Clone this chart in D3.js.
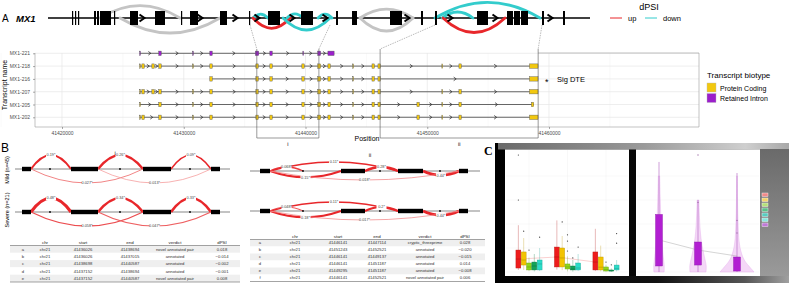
<!DOCTYPE html>
<html><head><meta charset="utf-8">
<script src="https://cdn.jsdelivr.net/npm/d3@7"></script>
<style>body{margin:0;background:#fff}svg{display:block;font-family:"Liberation Sans",Arial,sans-serif}</style>
</head><body><svg id="c" width="789" height="283"></svg>
<script>
// ================= DATA =================
// Panel A – gene model (schematic track units)
const geneExons=[[24,25],[27,28],[30,31],[46,48],[49,51],[52,63],[66,67],[82,90],[107,117],[133,134],[142,150],[172,179],[201,202],[220,232],[253,265],[288,290],[304,309],[342,354],[373,375],[387,389],[429,440],[459,465],[466,472],[473,480],[494,496],[515,517]];
const geneArrows=[94,152,187,209,244,277,359,402,447,502];
const geneArcs=[[52,132,"above","ns"],[72,172,"below","ns"],[205,220,"above","down"],[205,242,"below","up"],[239,255,"above","down"],[235,282,"below","down"],[270,284,"above","down"],[312,365,"above","ns"],[312,365,"below","ns"],[387,492,"above","down"],[394,425,"above","down"],[395,457,"below","up"]];
const zoomTop=[[202,282],[387,494]];
const zoomGenomic=[[41436000,41441100],[41446130,41459110]];
const zoomLabels=["i","ii"];
// Panel A – transcripts
const txNames=["MX1-221","MX1-218","MX1-216","MX1-207","MX1-205","MX1-202"];
const txBiotype=["Retained Intron","Protein Coding","Protein Coding","Protein Coding","Protein Coding","Protein Coding"];
const tx221=[[41426380,41426440],[41427950,41428150],[41430730,41430790],[41432140,41432340],[41435880,41436160],[41437070,41437270],[41439780,41439840],[41441000,41441240],[41441840,41442350]];
const tx218=[[41426380,41426440],[41426560,41426760],[41427380,41427580],[41427950,41428150],[41430730,41430790],[41432140,41432340],[41435920,41436120],[41437070,41437270],[41439700,41439900],[41441000,41441240],[41441840,41442040],[41443880,41443940],[41445460,41445660],[41445950,41446150],[41451200,41451260],[41452600,41452800],[41458400,41459100]];
const tx216=[[41432140,41432340],[41435920,41436120],[41437070,41437270],[41439700,41439900],[41441000,41441240],[41441840,41442040],[41443880,41443940],[41445460,41445660],[41445950,41446150],[41458400,41459100]];
const tx207=[[41426380,41426440],[41426560,41426760],[41427380,41427580],[41427950,41428150],[41430730,41430790],[41432140,41432340],[41435920,41436120],[41437070,41437270],[41439700,41439900],[41441000,41441240],[41441840,41442040],[41443880,41443940],[41445460,41445660],[41445950,41446150],[41451200,41451260],[41452600,41452800],[41458400,41459100]];
const tx205=[[41426380,41426440],[41427950,41428150],[41430730,41430790],[41432140,41432340],[41435920,41436120],[41437070,41437270],[41439700,41439900],[41441000,41441240],[41441840,41442040],[41443880,41443940],[41445460,41445660],[41445950,41446150],[41449150,41449350],[41451200,41451260],[41452600,41452800],[41458550,41458750]];
const tx202=[[41426380,41426440],[41426560,41426760],[41427950,41428150],[41430730,41430790],[41432140,41432340],[41435920,41436120],[41437070,41437270],[41439700,41439900],[41441000,41441240],[41441840,41442040],[41443880,41443940],[41445460,41445660],[41445950,41446150],[41449150,41449350],[41451200,41451260],[41452600,41452800],[41458400,41459100]];
const txExons=[tx221,tx218,tx216,tx207,tx205,tx202];
const xTicks=[41420000,41430000,41440000,41450000,41460000];
const biotypes=["Protein Coding","Retained Intron"];
// Panel B – sashimi
const sashiLeftExons=[[7,16],[56,83],[128,156],[196,205]];
const sashiLeftDots=[35,105,175];
const sashiLeftJx=[[16,56,"above"],[83,128,"above"],[156,196,"above"],[16,128,"below"],[83,196,"below"]];
const psiMildL=[0.19,0.26,0.09,0.027,0.013];
const psiSevereL=[0.48,0.34,0.33,0.058,0.047];
const sashiRightExons=[[10,20],[91,115],[148,173],[209,218]];
const sashiRightDots=[53,130,190];
const sashiRightJx=[[20,53,"above"],[20,148,"above"],[20,91,"below"],[115,148,"above"],[173,209,"below"],[20,209,"below"]];
const psiMildR=[0.068,0.11,0.15,0.28,0.44,0.018];
const psiSevereR=[0.048,0.11,0.18,0.20,0.44,0.017];
const groupLabels=["Mild (n=45)","Severe (n=21)"];
// Panel B – tables
const tabHeader=["","chr","start","end","verdict","dPSI"];
const tabLeftIds=["a","b","c","d","e"];
const tabLeftChr=["chr21","chr21","chr21","chr21","chr21"];
const tabLeftStart=[41436026,41436026,41438698,41437152,41437152];
const tabLeftEnd=[41438694,41437015,41440587,41438694,41440587];
const tabLeftVerdict=["novel annotated pair","annotated","annotated","annotated","novel annotated pair"];
const tabLeftDpsi=[0.018,-0.014,-0.002,-0.001,0.008];
const tabRightIds=["a","b","c","d","e","f"];
const tabRightChr=["chr21","chr21","chr21","chr21","chr21","chr21"];
const tabRightStart=[41446141,41451243,41446141,41446141,41449295,41446141];
const tabRightEnd=[41447114,41452521,41449137,41451187,41451187,41452521];
const tabRightVerdict=["cryptic_threeprime","annotated","annotated","annotated","annotated","novel annotated pair"];
const tabRightDpsi=[0.028,-0.020,-0.015,0.014,-0.008,0.006];
// Panel C – boxplots [lo,q1,med,q3,hi]
const cGroups=["g1","g2","g3"];
const cSeries=["s1","s2","s3","s4","s5"];
const cBox=[
 [[1.7,3.3,10.8,18.3,39],[1.7,5.8,10,16.7,28.3],[0.8,1.7,4.2,7.5,12],[0.5,1.7,5,8.3,15],[0.8,1.7,6.7,10,20]],
 [[2,4.2,12.5,20.8,43],[1.5,4.2,11.7,20,30],[0.5,2.5,4.2,6.7,13],[0.3,1.7,2.5,5,10],[0.8,1.7,3.3,7.5,15]],
 [[0.8,1.7,8.3,16.7,36],[0.5,1.7,4,12.5,22],[0.3,0.8,2,4.2,6],[0,0.8,1,1.7,3],[0.5,1.7,3,5.8,10]]];
const cOut=[
 [[97.5,60],[34],[18.3],[],[29]],
 [[],[41.7],[17.5,25.8,31],[11.7],[20.8]],
 [[],[],[8.3],[6],[24,32]]];
// Panel C – violins
const vLevels=[0,5,10,20,30,45,60,80,95];
const vDens=[[0.3,0.32,0.27,0.2,0.16,0.11,0.07,0.04,0.02],[0.47,0.5,0.42,0.26,0.15,0.08,0.05,0.03,0.02],[1.0,0.7,0.38,0.16,0.09,0.05,0.03,0.015,0.005]];
const vBox=[[0,5,26.7,48,91.7],[0,5.8,18.3,25,60],[0,0.8,13.3,12.5,82.5]];
const vOut=[[],[97.5,58],[43,32.5]];

// ================= DRAW =================
const svg=d3.select("#c");
const RED="#e8272b",CYAN="#33cccc",NSG="#c4c4c4";
const arcColor={ns:NSG,up:RED,down:CYAN};
function arcPath(x1,x2,y,h,side){const s=side==="above"?-1:1,m=(x1+x2)/2;return `M${x1},${y} Q${m},${y+s*2*h} ${x2},${y}`;}
function chevron(x,y,w,h){return `M${x-w/2},${y-h/2} L${x+w/2},${y} L${x-w/2},${y+h/2}`;}

// ---- Panel A: gene model
const xTop=d3.scaleLinear().domain([0,542]).range([48,590]);
const yTop=18;
const topH=d=>d[2]==="above"?Math.min(16,2+(d[1]-d[0])*0.13):Math.min(15,4+(d[1]-d[0])*0.17);
svg.append("text").attr("x",2).attr("y",22).attr("font-size",10).text("A");
svg.append("text").attr("x",16).attr("y",22).attr("font-size",9.5).attr("font-weight","bold").attr("font-style","italic").text("MX1");
svg.append("line").attr("x1",xTop(0)).attr("x2",xTop(542)).attr("y1",yTop).attr("y2",yTop).attr("stroke","#000").attr("stroke-width",1.3);
svg.selectAll(".garc").data(geneArcs).join("path").attr("d",d=>arcPath(xTop(d[0]),xTop(d[1]),yTop,topH(d),d[2]))
 .attr("fill","none").attr("stroke",d=>arcColor[d[3]]).attr("stroke-width",2.8).attr("stroke-linecap","round");
svg.selectAll(".gex").data(geneExons).join("rect").attr("x",d=>xTop(d[0])).attr("width",d=>Math.max(1.2,xTop(d[1])-xTop(d[0])))
 .attr("y",yTop-7).attr("height",14).attr("fill","#000");
svg.selectAll(".garr").data(geneArrows).join("path").attr("d",d=>chevron(xTop(d),yTop,5,7)).attr("fill","none").attr("stroke","#000").attr("stroke-width",2);
// dPSI legend
svg.append("text").attr("x",649).attr("y",10).attr("font-size",9).attr("text-anchor","middle").text("dPSI");
[["up",RED,610],["down",CYAN,645]].forEach(([t,c,xx])=>{
 svg.append("line").attr("x1",xx).attr("x2",xx+12).attr("y1",18).attr("y2",18).attr("stroke",c).attr("stroke-width",1);
 svg.append("text").attr("x",xx+18).attr("y",21).attr("font-size",7.5).text(t);
});

// ---- Panel A: transcript plot
const x=d3.scaleLinear().domain([41420000,41460000]).range([62,549]);
const y=d3.scalePoint().domain(txNames).range([53.3,117.3]);
const pL=35,pR=699,pT=53,pB=127;
const gP=svg.append("g");
const minor=d3.range(41415000,41465001,10000);
gP.selectAll(".mg").data(minor).join("line").attr("x1",d=>x(d)).attr("x2",d=>x(d)).attr("y1",pT).attr("y2",pB).attr("stroke","#f3f3f3").attr("stroke-width",0.5);
gP.selectAll(".vg").data(xTicks).join("line").attr("x1",d=>x(d)).attr("x2",d=>x(d)).attr("y1",pT).attr("y2",pB).attr("stroke","#e6e6e6").attr("stroke-width",0.7);
gP.selectAll(".hg").data(txNames).join("line").attr("x1",pL).attr("x2",pR).attr("y1",d=>y(d)).attr("y2",d=>y(d)).attr("stroke","#e6e6e6").attr("stroke-width",0.7);
gP.append("path").attr("d",`M${pL},${pT} V${pB} H${pR} V${pT} H${x(zoomGenomic[1][1])}`).attr("fill","none").attr("stroke","#9a9a9a").attr("stroke-width",0.6);
const bioColor={"Protein Coding":"#f2c80f","Retained Intron":"#9b1fcb"};
txNames.forEach((n,i)=>{
 const ex=txExons[i],yy=y(n);
 gP.append("line").attr("x1",x(ex[0][0])).attr("x2",x(ex[ex.length-1][1])).attr("y1",yy).attr("y2",yy).attr("stroke",i>=3?"#666":"#444").attr("stroke-width",i>=3?1.1:0.8);
 const introns=d3.pairs(ex).map(([a,b])=>[a[1],b[0]]).filter(d=>x(d[1])-x(d[0])>4);
 gP.selectAll(null).data(introns).join("path").attr("d",d=>chevron((x(d[0])+x(d[1]))/2,yy,2.5,3.6)).attr("fill","none").attr("stroke","#333").attr("stroke-width",0.8);
 gP.selectAll(null).data(ex).join("rect").attr("x",d=>x(d[0])).attr("width",d=>Math.max(0.6,x(d[1])-x(d[0]))).attr("y",yy-2.2).attr("height",4.4)
  .attr("fill",bioColor[txBiotype[i]]).attr("stroke","#555").attr("stroke-width",0.4);
});
const ax=d3.axisBottom(x).tickValues(xTicks).tickFormat(d3.format("d")).tickSize(2);
const gx=svg.append("g").attr("transform",`translate(0,${pB})`).call(ax);
gx.select(".domain").remove();
gx.selectAll("line").attr("stroke","#555").attr("stroke-width",0.5);
gx.selectAll("text").attr("font-size",5).attr("fill","#4d4d4d").attr("dy","0.5em").attr("font-family","Liberation Sans, Arial");
const gy=svg.append("g").attr("transform",`translate(${pL},0)`).call(d3.axisLeft(y).tickSize(2));
gy.select(".domain").remove();
gy.selectAll("line").attr("stroke","#555").attr("stroke-width",0.5);
gy.selectAll("text").attr("font-size",5).attr("fill","#4d4d4d").attr("font-family","Liberation Sans, Arial");
svg.append("text").attr("transform","translate(7,85) rotate(-90)").attr("text-anchor","middle").attr("font-size",7).text("Transcript name");
svg.append("text").attr("x",367).attr("y",141).attr("text-anchor","middle").attr("font-size",7).text("Position");
zoomGenomic.forEach((g,i)=>{
 const a=x(g[0]),b=x(g[1]);
 svg.append("path").attr("d",`M${a},49 V138 H${b} V49`).attr("fill","none").attr("stroke","#555").attr("stroke-width",0.6);
 svg.append("line").attr("x1",xTop(zoomTop[i][0])).attr("y1",yTop+7).attr("x2",a).attr("y2",49).attr("stroke","#777").attr("stroke-width",0.5).attr("stroke-dasharray","1.5,1");
 svg.append("line").attr("x1",xTop(zoomTop[i][1])).attr("y1",yTop+7).attr("x2",b).attr("y2",49).attr("stroke","#777").attr("stroke-width",0.5).attr("stroke-dasharray","1.5,1");
 svg.append("text").attr("x",(a+b)/2).attr("y",146).attr("text-anchor","middle").attr("font-size",5.5).text(zoomLabels[i]);
});
svg.append("text").attr("x",545).attr("y",85).attr("font-size",9).text("*");
svg.append("text").attr("x",557).attr("y",82).attr("font-size",7.5).text("Sig DTE");
svg.append("text").attr("x",707).attr("y",78).attr("font-size",8).text("Transcript biotype");
biotypes.forEach((b,i)=>{
 svg.append("rect").attr("x",707).attr("y",83+i*10.5).attr("width",9).attr("height",9).attr("fill",bioColor[b]).attr("stroke","#bbb").attr("stroke-width",0.4);
 svg.append("text").attr("x",720).attr("y",90.5+i*10.5).attr("font-size",7).text(b);
});

// ---- Panel B: sashimi
svg.append("text").attr("x",1).attr("y",152).attr("font-size",12).text("B");
const wScale=d3.scaleSqrt().domain([0,0.5]).range([0.3,3.2]);
const cScale=d3.scaleLinear().domain([0,0.08]).range(["#f6b0b0",RED]).clamp(true);
function sashimi(x0,x1,len,yy,exons,dots,jx,vals,hfn){
 const sx=d3.scaleLinear().domain([0,len]).range([x0,x1]);
 const g=svg.append("g");
 g.append("line").attr("x1",x0).attr("x2",x1).attr("y1",yy).attr("y2",yy).attr("stroke","#555").attr("stroke-width",0.7);
 g.selectAll(null).data(jx).join("path").attr("d",(d,i)=>arcPath(sx(d[0]),sx(d[1]),yy,hfn(d[1]-d[0]),d[2]))
  .attr("fill","none").attr("stroke",(d,i)=>cScale(vals[i])).attr("stroke-width",(d,i)=>wScale(vals[i]));
 g.selectAll(null).data(exons).join("rect").attr("x",d=>sx(d[0])).attr("width",d=>sx(d[1])-sx(d[0])).attr("y",yy-2.2).attr("height",4.4).attr("fill","#000");
 g.selectAll(null).data(dots).join("circle").attr("cx",d=>sx(d)).attr("cy",yy).attr("r",0.9).attr("fill","#000");
 const lab=g.selectAll(null).data(jx).join("g").attr("transform",(d,i)=>`translate(${(sx(d[0])+sx(d[1]))/2},${yy+(d[2]==="above"?-1:1)*hfn(d[1]-d[0])})`);
 lab.append("rect").attr("x",-5).attr("y",-2).attr("width",10).attr("height",4).attr("fill","#fff");
 lab.append("text").attr("text-anchor","middle").attr("dy","0.35em").attr("font-size",3.8).attr("fill","#444").text((d,i)=>vals[i]+"*");
}
const hL=s=>Math.min(14,3+s*0.3), hR=s=>Math.min(9,2+s*0.06);
sashimi(15,230,215,169,sashiLeftExons,sashiLeftDots,sashiLeftJx,psiMildL,hL);
sashimi(15,230,215,212,sashiLeftExons,sashiLeftDots,sashiLeftJx,psiSevereL,hL);
sashimi(250,480,230,171,sashiRightExons,sashiRightDots,sashiRightJx,psiMildR,hR);
sashimi(250,480,230,211,sashiRightExons,sashiRightDots,sashiRightJx,psiSevereR,hR);
svg.append("text").attr("x",115).attr("y",155).attr("text-anchor","middle").attr("font-size",5.5).text("i");
svg.append("text").attr("x",370).attr("y",157).attr("text-anchor","middle").attr("font-size",5.5).text("ii");
svg.append("text").attr("transform","translate(9,170) rotate(-90)").attr("text-anchor","middle").attr("font-size",5.5).text(groupLabels[0]);
svg.append("text").attr("transform","translate(9,210) rotate(-90)").attr("text-anchor","middle").attr("font-size",5.5).text(groupLabels[1]);

// ---- Panel B: tables
const fmtP=d3.format(".3f");
function table(x0,x1,yH,dy,colX,ids,chr,st,en,ver,dp){
 const g=svg.append("g");
 const rows=ids.map((d,i)=>[d,chr[i],String(st[i]),String(en[i]),ver[i],fmtP(dp[i])]);
 g.selectAll(null).data(rows).join("rect").attr("x",x0).attr("width",x1-x0).attr("y",(d,i)=>yH+3.5+i*dy).attr("height",dy)
  .attr("fill",(d,i)=>i%2===0?"#efefef":"#fff");
 g.append("line").attr("x1",x0).attr("x2",x1).attr("y1",yH+3.5).attr("y2",yH+3.5).attr("stroke","#666").attr("stroke-width",0.6);
 g.append("line").attr("x1",x0).attr("x2",x1).attr("y1",yH+3.5+rows.length*dy).attr("y2",yH+3.5+rows.length*dy).attr("stroke","#666").attr("stroke-width",0.6);
 g.selectAll(null).data(tabHeader).join("text").attr("x",(d,i)=>colX[i]).attr("y",yH+1.5).attr("text-anchor","middle").attr("font-size",4.4).attr("fill","#222").text(d=>d);
 rows.forEach((r,i)=>{
  g.selectAll(null).data(r).join("text").attr("x",(d,j)=>colX[j]).attr("y",yH+3.5+i*dy+dy/2).attr("dy","0.35em").attr("text-anchor","middle").attr("font-size",4.2).attr("fill","#333").text(d=>d);
 });
}
table(10,240,242,7.3,[23,45,83,130,175,222],tabLeftIds,tabLeftChr,tabLeftStart,tabLeftEnd,tabLeftVerdict,tabLeftDpsi);
table(250,485,236,7,[260,295,338,377,425,465],tabRightIds,tabRightChr,tabRightStart,tabRightEnd,tabRightVerdict,tabRightDpsi);

// ---- Panel C
const defs=svg.append("defs");
function lg(id,stops,vert){const g=defs.append("linearGradient").attr("id",id).attr("x1",0).attr("y1",0).attr("x2",vert?0:1).attr("y2",vert?1:0);
 stops.forEach(([o,c])=>g.append("stop").attr("offset",o).attr("stop-color",c));}
lg("cbg",[[0,"#000"],[0.55,"#080808"],[0.8,"#3c3c3c"],[0.9,"#676767"],[1,"#8a8a8a"]]);
lg("ctop",[[0,"#6a6a6a"],[0.5,"#9a9a9a"],[0.85,"#cfcfcf"],[1,"#a8a8a8"]]);
lg("cright",[[0,"#6a6a6a"],[1,"#9a9a9a"]],true);
lg("cbot",[[0,"#000"],[0.55,"#111"],[0.85,"#555"],[1,"#a0a0a0"]]);
svg.append("rect").attr("x",495).attr("y",143).attr("width",294).attr("height",140).attr("fill","url(#cbg)");
svg.append("rect").attr("x",498).attr("y",143).attr("width",291).attr("height",6.5).attr("fill","url(#ctop)");
svg.append("rect").attr("x",760).attr("y",149).attr("width",29).attr("height",127).attr("fill","url(#cright)");
svg.append("rect").attr("x",495).attr("y",276).attr("width",294).attr("height",7).attr("fill","url(#cbot)");
svg.append("rect").attr("x",505).attr("y",149.5).attr("width",124).attr("height",126.5).attr("fill","#fff");
svg.append("rect").attr("x",636).attr("y",149.5).attr("width",124).attr("height",126.5).attr("fill","#fff");
svg.append("text").attr("x",484).attr("y",155).attr("font-size",12).attr("font-family","Liberation Serif, serif").attr("font-weight","bold").text("C");
const yC=d3.scaleLinear().domain([0,100]).range([272,152]);
const gx1=d3.scalePoint().domain(cGroups).range([529,606]);
const sx1=d3.scaleBand().domain(cSeries).range([-13.5,13.5]).padding(0.08);
const sCol=["#ee1c1c","#f3c300","#8fd61c","#12a35a","#2bdcc8"];
const gC=svg.append("g");
[0,20,40,60,80].forEach(v=>{gC.append("line").attr("x1",506).attr("x2",628).attr("y1",yC(v)).attr("y2",yC(v)).attr("stroke","#f0f0f0").attr("stroke-width",0.5);
 gC.append("line").attr("x1",637).attr("x2",759).attr("y1",yC(v)).attr("y2",yC(v)).attr("stroke","#f0f0f0").attr("stroke-width",0.5);});
cGroups.forEach(g=>gC.append("line").attr("x1",gx1(g)).attr("x2",gx1(g)).attr("y1",150).attr("y2",275).attr("stroke","#f0f0f0").attr("stroke-width",0.5));
gC.append("path").attr("d",d3.line()(cGroups.map((g,i)=>[gx1(g)+sx1("s1")+sx1.bandwidth()/2,yC(cBox[i][0][2])]))).attr("fill","none").attr("stroke","#f4a0a0").attr("stroke-width",0.5);
cGroups.forEach((g,gi)=>{
 cSeries.forEach((s,si)=>{
  const b=cBox[gi][si],cx=gx1(g)+sx1(s)+sx1.bandwidth()/2,w=sx1.bandwidth(),col=sCol[si],dk=d3.color(col).darker(0.8);
  gC.append("line").attr("x1",cx).attr("x2",cx).attr("y1",yC(b[0])).attr("y2",yC(b[4])).attr("stroke",dk).attr("stroke-opacity",0.6).attr("stroke-width",0.5);
  gC.append("rect").attr("x",cx-w/2).attr("width",w).attr("y",yC(b[3])).attr("height",yC(b[1])-yC(b[3])).attr("fill",col).attr("stroke",dk).attr("stroke-width",0.4);
  gC.append("line").attr("x1",cx-w/2).attr("x2",cx+w/2).attr("y1",yC(b[2])).attr("y2",yC(b[2])).attr("stroke",dk).attr("stroke-width",0.6);
  gC.selectAll(null).data(cOut[gi][si]).join("circle").attr("cx",cx).attr("cy",d=>yC(d)).attr("r",0.6).attr("fill","#333");
 });
});
const vx=d3.scalePoint().domain(["v1","v2","v3"]).range([659,737]);
vDens.forEach((dens,i)=>{
 const X=vx(vx.domain()[i]);
 const pts=vLevels.map((l,j)=>[l,dens[j]]).filter(d=>d[0]<=vBox[i][4]);
 gC.append("path").attr("d",d3.area().y(d=>yC(d[0])).x0(d=>X-d[1]*17).x1(d=>X+d[1]*17).curve(d3.curveBasis)(pts))
  .attr("fill","#efc6f3").attr("fill-opacity",0.7).attr("stroke","#e2a8ea").attr("stroke-width",0.4);
});
gC.append("path").attr("d",d3.line()(vBox.map((b,i)=>[vx(vx.domain()[i]),yC(b[2])]))).attr("fill","none").attr("stroke","#aaa").attr("stroke-width",0.5);
vBox.forEach((b,i)=>{
 const X=vx(vx.domain()[i]);
 gC.append("line").attr("x1",X).attr("x2",X).attr("y1",yC(b[0])).attr("y2",yC(b[4])).attr("stroke","#b060c0").attr("stroke-width",0.6);
 gC.append("rect").attr("x",X-3.5).attr("width",7).attr("y",yC(b[3])).attr("height",yC(b[1])-yC(b[3])).attr("fill","#b21fd2").attr("stroke","#8a1aa8").attr("stroke-width",0.4);
 gC.selectAll(null).data(vOut[i]).join("circle").attr("cx",X).attr("cy",d=>yC(d)).attr("r",0.7).attr("fill","#a070a8");
});
const legCols=["#f08a8a","#f5d36a","#b5e07a","#5cc08a","#58ccc0","#8ae8e0","#c07ad8"];
svg.selectAll(".ml").data(legCols).join("rect").attr("x",762).attr("y",(d,i)=>193+i*5).attr("width",6).attr("height",3.6).attr("fill",d=>d).attr("stroke","#fff").attr("stroke-width",0.4);
</script></body></html>
